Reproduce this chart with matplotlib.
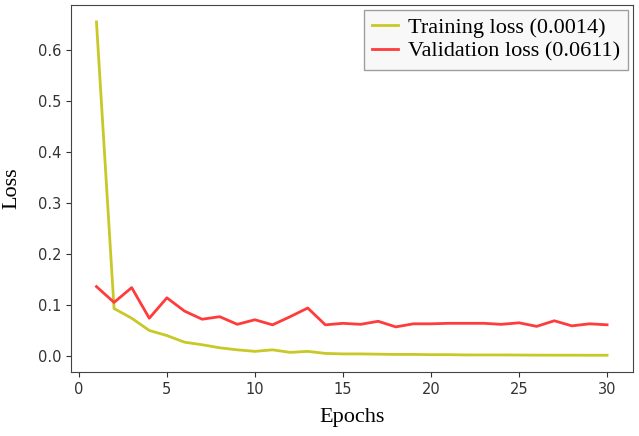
import matplotlib
matplotlib.use('Agg')
import matplotlib.pyplot as plt
import numpy as np

epochs = np.arange(1, 31)

train_loss = [0.655, 0.093, 0.074, 0.050, 0.040, 0.027, 0.022, 0.016, 0.012, 0.009,
              0.012, 0.007, 0.009, 0.005, 0.004, 0.004, 0.0035, 0.003, 0.003, 0.0025,
              0.0025, 0.002, 0.002, 0.002, 0.0018, 0.0016, 0.0015, 0.0015, 0.0014, 0.0014]
val_loss = [0.136, 0.105, 0.134, 0.074, 0.114, 0.088, 0.072, 0.077, 0.062, 0.071,
            0.061, 0.077, 0.094, 0.061, 0.064, 0.062, 0.068, 0.057, 0.063, 0.063,
            0.064, 0.064, 0.064, 0.062, 0.065, 0.058, 0.069, 0.059, 0.063, 0.0611]

serif = 'Liberation Serif'

fig = plt.figure(figsize=(6.39, 4.36), dpi=100)
ax = fig.add_axes([0.111, 0.147, 0.879, 0.841])

ax.plot(epochs, train_loss, color='#c8c828', lw=2, label='Training loss (0.0014)')
ax.plot(epochs, val_loss, color='#ff3b3b', lw=2, label='Validation loss (0.0611)')

ax.set_xlabel('Epochs', fontfamily=serif, fontsize=16, labelpad=8)
ax.set_ylabel('Loss', fontfamily=serif, fontsize=16, labelpad=12)
ax.tick_params(labelsize=10.5, colors='#333333')
for s in ax.spines.values():
    s.set_color('#444444')

leg = ax.legend(loc='upper right', prop={'family': serif, 'size': 16},
                fancybox=False, edgecolor='#888888', handlelength=1.2,
                borderpad=0.35, labelspacing=0.15, handletextpad=0.45,
                borderaxespad=0.2)
leg.get_frame().set_facecolor('#f7f7f7')

fig.savefig('out.png', dpi=100)
